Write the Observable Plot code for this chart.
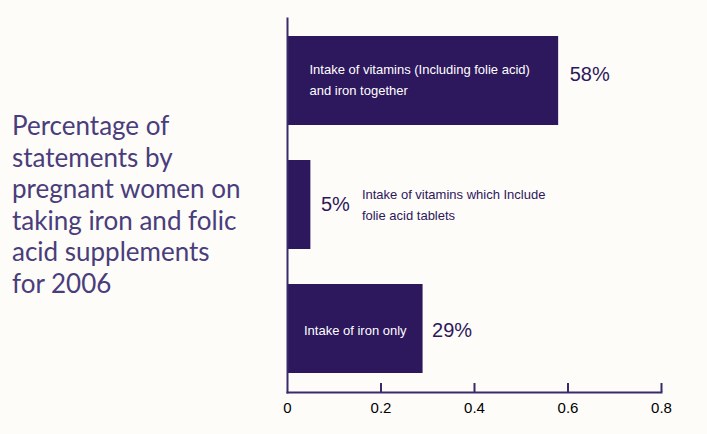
<!DOCTYPE html>
<html>
<head>
<meta charset="utf-8">
<script src="https://cdn.jsdelivr.net/npm/d3@7"></script>
<script src="https://cdn.jsdelivr.net/npm/@observablehq/plot@0.6"></script>
<style>
  html, body { margin: 0; padding: 0; background: #fdfcf8; }
  #wrap { position: relative; width: 707px; height: 434px; overflow: hidden; }
  #title {
    position: absolute; left: 12px; top: 110px;
    font-family: Lato, "Open Sans", sans-serif; font-size: 26px; line-height: 31.5px;
    color: #4a3d7c; white-space: pre;
  }
  #chart { position: absolute; left: 0; top: 0; }
</style>
</head>
<body>
<div id="wrap">
  <div id="chart"></div>
  <div id="title"></div>
</div>
<script>
const titleLines = ["Percentage of", "statements by", "pregnant women on", "taking iron and folic", "acid supplements", "for 2006"];
const categories = [
  "Intake of vitamins (Including folie acid)\nand iron together",
  "Intake of vitamins which Include\nfolie acid tablets",
  "Intake of iron only"
];
const values = [0.58, 0.05, 0.29];
const valueLabels = ["58%", "5%", "29%"];
const xTicks = [0, 0.2, 0.4, 0.6, 0.8];

document.getElementById("title").textContent = titleLines.join("\n");

const data = categories.map((c, i) => ({category: c, value: values[i], label: valueLabels[i], i}));
const barColor = "#2d175d";
const axisColor = "#3a2a6a";
const font = "'Liberation Sans', Arial, sans-serif";
const lblStyle = "letter-spacing:0.75px";

const chart = Plot.plot({
  width: 707,
  height: 434,
  marginLeft: 287,
  marginRight: 46,
  marginTop: 18,
  marginBottom: 42,
  style: {background: "transparent", fontFamily: font},
  x: {domain: [0, 0.8], label: null},
  y: {domain: categories, paddingInner: 0.28, paddingOuter: 0.14, axis: null},
  marks: [
    Plot.barX(data, {x: "value", y: "category", fill: barColor}),
    Plot.frame({anchor: "left", stroke: axisColor, strokeWidth: 2}),
    Plot.frame({anchor: "bottom", stroke: axisColor, strokeWidth: 2}),
    Plot.ruleX(xTicks.slice(1), {x: d => d, stroke: axisColor, strokeWidth: 2, insetTop: 365}),
    Plot.axisX({ticks: xTicks, tickSize: 0, tickPadding: 10, fontSize: 15, fill: "#000", label: null,
      tickFormat: d => d === 0 ? "0" : String(d)}),
    // in-bar label (first bar): left aligned inside
    Plot.text(data.filter(d => d.i === 0), {x: 0, y: "category", text: "category", textAnchor: "start", dx: 22, dy: -3,
      fill: "#fff", fontSize: 13, lineHeight: 1.62, style: lblStyle}),
    // outside label (second bar)
    Plot.text(data.filter(d => d.i === 1), {x: "value", y: "category", text: "category", textAnchor: "start", dx: 51, dy: -2,
      fill: barColor, fontSize: 13, lineHeight: 1.55, style: lblStyle}),
    // in-bar label centered (third bar)
    Plot.text(data.filter(d => d.i === 2), {x: d => d.value / 2, y: "category", text: "category", textAnchor: "middle", dy: 2,
      fill: "#fff", fontSize: 13, style: lblStyle}),
    // value labels
    Plot.text(data.filter(d => d.i === 0), {x: "value", y: "category", text: "label", textAnchor: "start", dx: 11, dy: -6,
      fill: barColor, fontSize: 20}),
    Plot.text(data.filter(d => d.i === 1), {x: "value", y: "category", text: "label", textAnchor: "start", dx: 10,
      fill: barColor, fontSize: 20}),
    Plot.text(data.filter(d => d.i === 2), {x: "value", y: "category", text: "label", textAnchor: "start", dx: 9, dy: 2,
      fill: barColor, fontSize: 20})
  ]
});
document.getElementById("chart").appendChild(chart);
</script>
</body>
</html>
